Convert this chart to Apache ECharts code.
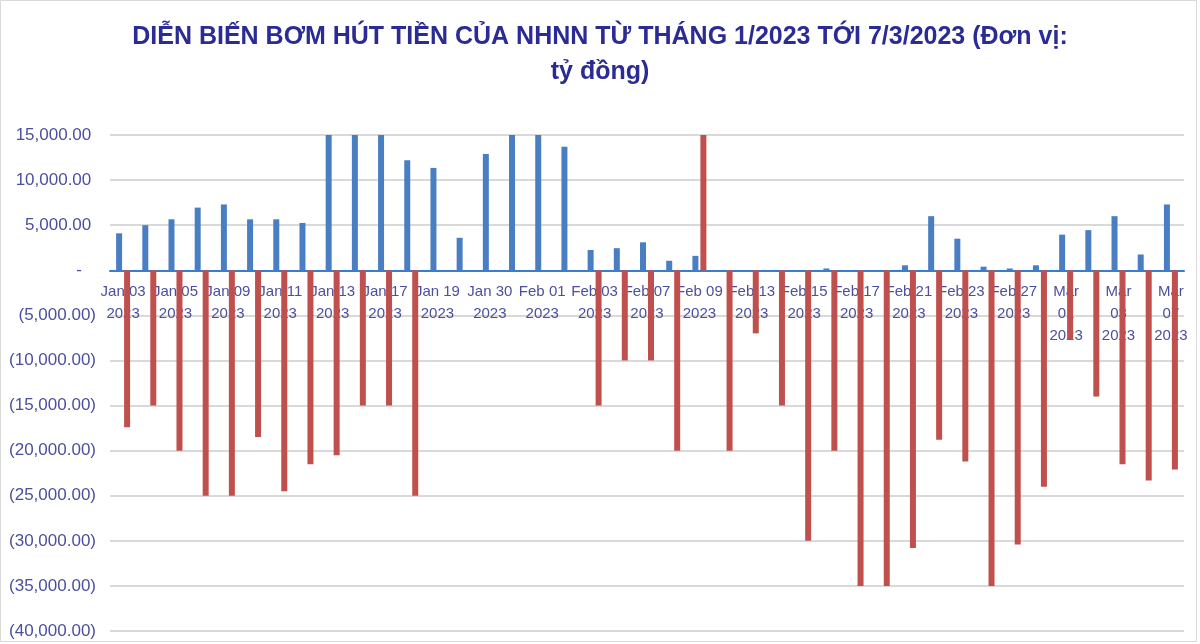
<!DOCTYPE html>
<html>
<head>
<meta charset="utf-8">
<script src="https://cdn.jsdelivr.net/npm/echarts@6/dist/echarts.min.js"></script>
<style>
html,body{margin:0;padding:0;background:#fff;}
#chart{width:1200px;height:644px;}
</style>
</head>
<body>
<div id="chart"></div>
<script>
// Trading days (categories)
const categories = [
  'Jan 03','Jan 04','Jan 05','Jan 06','Jan 09','Jan 10','Jan 11','Jan 12','Jan 13','Jan 16',
  'Jan 17','Jan 18','Jan 19','Jan 20','Jan 30','Jan 31','Feb 01','Feb 02','Feb 03','Feb 06',
  'Feb 07','Feb 08','Feb 09','Feb 10','Feb 13','Feb 14','Feb 15','Feb 16','Feb 17','Feb 20',
  'Feb 21','Feb 22','Feb 23','Feb 24','Feb 27','Feb 28','Mar 01','Mar 02','Mar 03','Mar 06',
  'Mar 07'
];
const yearLabel = '2023';
// Blue series (bơm) – values above 15,000 are clipped at the top of the chart
const bluePump = [
  4100, 5000, 5650, 6950, 7300, 5650, 5650, 5250, 15000, 15000,
  15000, 12200, 11350, 3600, 12900, 15000, 15000, 13700, 2250, 2450,
  3100, 1050, 1600, 0, 0, 0, 0, 200, 0, 0,
  550, 6000, 3500, 400, 200, 550, 3950, 4450, 6000, 1750,
  7300
];
// Red series (hút)
const redWithdraw = [
  -17400, -15000, -20000, -25000, -25000, -18500, -24500, -21500, -20500, -15000,
  -15000, -25000, 0, 0, 0, 0, 0, 0, -15000, -10000,
  -10000, -20000, 15000, -20000, -7000, -15000, -30000, -20000, -35000, -35000,
  -30800, -18800, -21200, -35000, -30400, -24000, -7700, -14000, -21500, -23300,
  -22100
];
const yTicks = { min: -40000, max: 15000, step: 5000 };
const titleText = 'DIỄN BIẾN BƠM HÚT TIỀN CỦA NHNN TỪ THÁNG 1/2023 TỚI 7/3/2023 (Đơn vị:\ntỷ đồng)';

const labelColor = '#4B4F9E';
const gridTop = 135, gridBottom = 13, chartH = 644;
const gridH = chartH - gridTop - gridBottom;
// move the category axis (line + labels) up to the zero value line
const zeroOffset = -gridH * (0 - yTicks.min) / (yTicks.max - yTicks.min);

function fmtNum(v){
  const a = Math.abs(v).toLocaleString('en-US',{minimumFractionDigits:2,maximumFractionDigits:2});
  if (v === 0) return '-   ';
  if (v < 0) return '(' + a + ')';
  return a + ' ';
}
const chart = echarts.init(document.getElementById('chart'), null, {renderer:'canvas'});
chart.setOption({
  animation: false,
  backgroundColor: '#fff',
  title: {
    text: titleText,
    left: 'center',
    top: 15,
    textStyle: {
      fontFamily: 'Liberation Sans',
      fontSize: 25,
      fontWeight: 'bold',
      color: '#2A2B94',
      lineHeight: 35
    }
  },
  graphic: [{
    type: 'rect',
    shape: {x: 0.5, y: 0.5, width: 1196, height: 641},
    style: {fill: 'none', stroke: '#D9D9D9', lineWidth: 1},
    silent: true
  }],
  grid: { left: 110, right: 16, top: gridTop, bottom: gridBottom, containLabel: false, outerBoundsMode: 'none' },
  xAxis: {
    type: 'category',
    data: categories,
    position: 'bottom',
    offset: zeroOffset,
    axisLine: { onZero: false, lineStyle: { color: '#3A7DD0', width: 2 } },
    axisTick: { show: false },
    axisLabel: {
      interval: 1,
      margin: 11,
      color: labelColor,
      fontFamily: 'Liberation Sans',
      fontSize: 15,
      lineHeight: 22,
      formatter: function(v){
        if (v.indexOf('Mar') === 0) return v.replace(' ', '\n') + '\n' + yearLabel;
        return v + '\n' + yearLabel;
      }
    },
    splitLine: { show: false }
  },
  yAxis: {
    type: 'value',
    min: yTicks.min,
    max: yTicks.max,
    interval: yTicks.step,
    axisLine: { show: false },
    axisTick: { show: false },
    splitLine: { lineStyle: { color: '#D9D9D9', width: 2 } },
    axisLabel: {
      margin: 14,
      color: labelColor,
      fontFamily: 'Liberation Sans',
      fontSize: 17,
      formatter: fmtNum
    }
  },
  series: [
    {
      name: 'Bơm',
      type: 'bar',
      data: bluePump,
      barWidth: 6,
      barGap: '33%',
      clip: true,
      itemStyle: { color: '#4A7EC2' }
    },
    {
      name: 'Hút',
      type: 'bar',
      data: redWithdraw,
      barWidth: 6,
      clip: true,
      itemStyle: { color: '#C0504D' }
    }
  ]
});
</script>
</body>
</html>
